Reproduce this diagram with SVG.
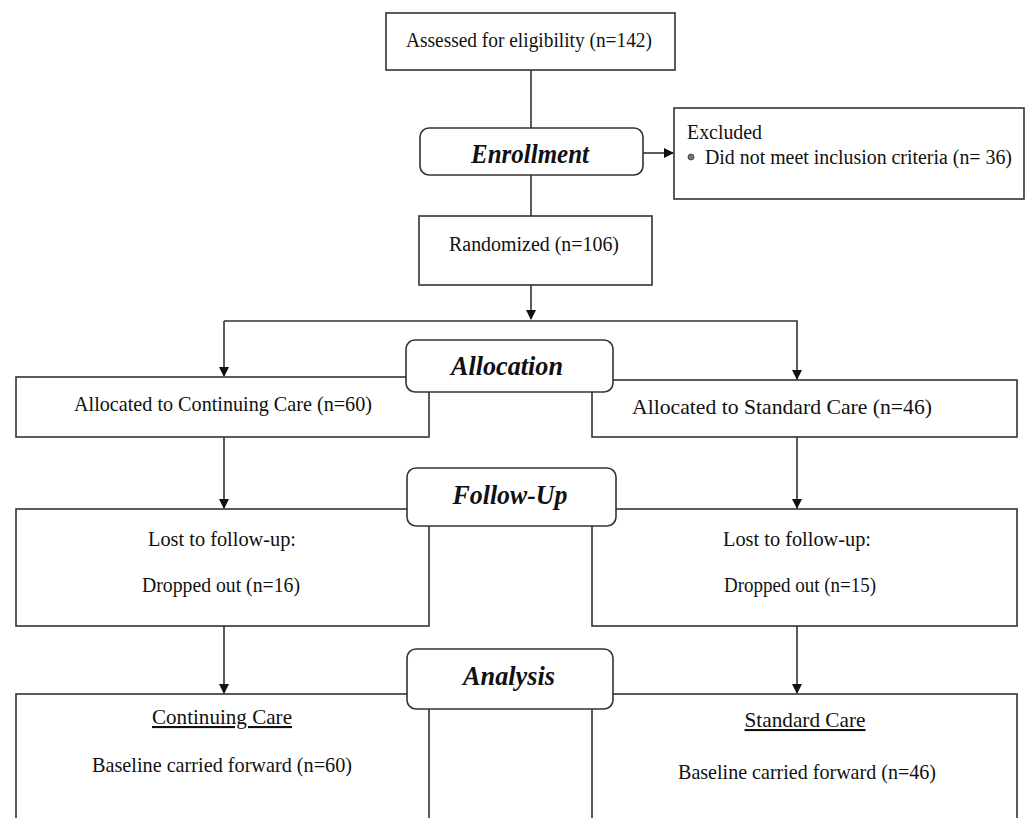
<svg xmlns="http://www.w3.org/2000/svg" width="1030" height="818" viewBox="0 0 1030 818">
<style>
.box{fill:#fff;stroke:#333;stroke-width:1.6}
.stage{fill:#fff;stroke:#333;stroke-width:1.6}
.ln{fill:none;stroke:#333;stroke-width:1.6}
.t{font-family:"Liberation Serif","DejaVu Serif",serif;font-size:20px;fill:#111}
.tc{font-family:"Liberation Serif","DejaVu Serif",serif;font-size:21px;fill:#111}
.h{font-family:"Liberation Serif","DejaVu Serif",serif;font-size:28px;font-weight:bold;font-style:italic;fill:#111}
</style>
<defs>
<marker id="ah" markerWidth="10" markerHeight="10" refX="9" refY="5" orient="auto" markerUnits="userSpaceOnUse">
<path d="M0,0 L10,5 L0,10 Z" fill="#111"/>
</marker>
</defs>
<g id="connectors">
<line class="ln" x1="531" y1="70" x2="531" y2="128"/>
<line class="ln" x1="643" y1="153" x2="673" y2="153" marker-end="url(#ah)"/>
<line class="ln" x1="531" y1="175" x2="531" y2="216"/>
<line class="ln" x1="531" y1="285" x2="531" y2="319" marker-end="url(#ah)"/>
<polyline class="ln" points="224,321 797,321 797,379" marker-end="url(#ah)"/>
<line class="ln" x1="224" y1="321" x2="224" y2="376" marker-end="url(#ah)"/>
<line class="ln" x1="224" y1="437" x2="224" y2="508" marker-end="url(#ah)"/>
<line class="ln" x1="797" y1="437" x2="797" y2="508" marker-end="url(#ah)"/>
<line class="ln" x1="224" y1="626" x2="224" y2="693" marker-end="url(#ah)"/>
<line class="ln" x1="797" y1="626" x2="797" y2="693" marker-end="url(#ah)"/>
</g>
<g id="assessed">
<rect class="box" x="386" y="13" width="289" height="57"/>
<text class="t" x="529" y="47" text-anchor="middle" textLength="246" lengthAdjust="spacingAndGlyphs">Assessed for eligibility (n=142)</text>
</g>
<g id="excluded">
<rect class="box" x="674" y="108" width="350" height="91"/>
<text class="t" x="687" y="139" textLength="75" lengthAdjust="spacingAndGlyphs">Excluded</text>
<circle cx="691" cy="157" r="3" fill="#777" stroke="#333" stroke-width="0.8"/>
<text class="t" x="705" y="164" textLength="307" lengthAdjust="spacingAndGlyphs">Did not meet inclusion criteria (n= 36)</text>
</g>
<g id="randomized">
<rect class="box" x="419" y="216" width="233" height="69"/>
<text class="t" x="534" y="251" text-anchor="middle" textLength="170" lengthAdjust="spacingAndGlyphs">Randomized (n=106)</text>
</g>
<g id="alloc-left">
<rect class="box" x="16" y="377" width="413" height="60"/>
<text class="tc" x="223" y="411" text-anchor="middle" textLength="298" lengthAdjust="spacingAndGlyphs">Allocated to Continuing Care (n=60)</text>
</g>
<g id="alloc-right">
<rect class="box" x="592" y="380" width="425" height="57"/>
<text class="tc" x="782" y="414" text-anchor="middle" textLength="300" lengthAdjust="spacingAndGlyphs">Allocated to Standard Care (n=46)</text>
</g>
<g id="follow-left">
<rect class="box" x="16" y="509" width="413" height="117"/>
<text class="tc" x="222" y="546" text-anchor="middle" textLength="148" lengthAdjust="spacingAndGlyphs">Lost to follow-up:</text>
<text class="tc" x="221" y="592" text-anchor="middle" textLength="158" lengthAdjust="spacingAndGlyphs">Dropped out (n=16)</text>
</g>
<g id="follow-right">
<rect class="box" x="592" y="509" width="425" height="117"/>
<text class="tc" x="797" y="546" text-anchor="middle" textLength="148" lengthAdjust="spacingAndGlyphs">Lost to follow-up:</text>
<text class="tc" x="800" y="592" text-anchor="middle" textLength="152" lengthAdjust="spacingAndGlyphs">Dropped out (n=15)</text>
</g>
<g id="analysis-left">
<rect class="box" x="16" y="694" width="413" height="140"/>
<text class="tc" x="222" y="724" text-anchor="middle" textLength="140" lengthAdjust="spacingAndGlyphs" text-decoration="underline">Continuing Care</text>
<text class="tc" x="222" y="772" text-anchor="middle" textLength="260" lengthAdjust="spacingAndGlyphs">Baseline carried forward (n=60)</text>
</g>
<g id="analysis-right">
<rect class="box" x="592" y="694" width="425" height="140"/>
<text class="tc" x="805" y="727" text-anchor="middle" textLength="121" lengthAdjust="spacingAndGlyphs" text-decoration="underline">Standard Care</text>
<text class="tc" x="807" y="779" text-anchor="middle" textLength="258" lengthAdjust="spacingAndGlyphs">Baseline carried forward (n=46)</text>
</g>
<g id="enrollment">
<rect class="stage" x="420" y="128" width="223" height="47" rx="9"/>
<text class="h" x="530" y="163" text-anchor="middle" textLength="118" lengthAdjust="spacingAndGlyphs">Enrollment</text>
</g>
<g id="allocation">
<rect class="stage" x="406" y="340" width="207" height="52" rx="9"/>
<text class="h" x="507" y="375" text-anchor="middle" textLength="112" lengthAdjust="spacingAndGlyphs">Allocation</text>
</g>
<g id="followup">
<rect class="stage" x="407" y="468" width="209" height="58" rx="9"/>
<text class="h" x="510" y="504" text-anchor="middle" textLength="115" lengthAdjust="spacingAndGlyphs">Follow-Up</text>
</g>
<g id="analysis">
<rect class="stage" x="407" y="649" width="206" height="60" rx="9"/>
<text class="h" x="509" y="685" text-anchor="middle" textLength="92" lengthAdjust="spacingAndGlyphs">Analysis</text>
</g>
</svg>
